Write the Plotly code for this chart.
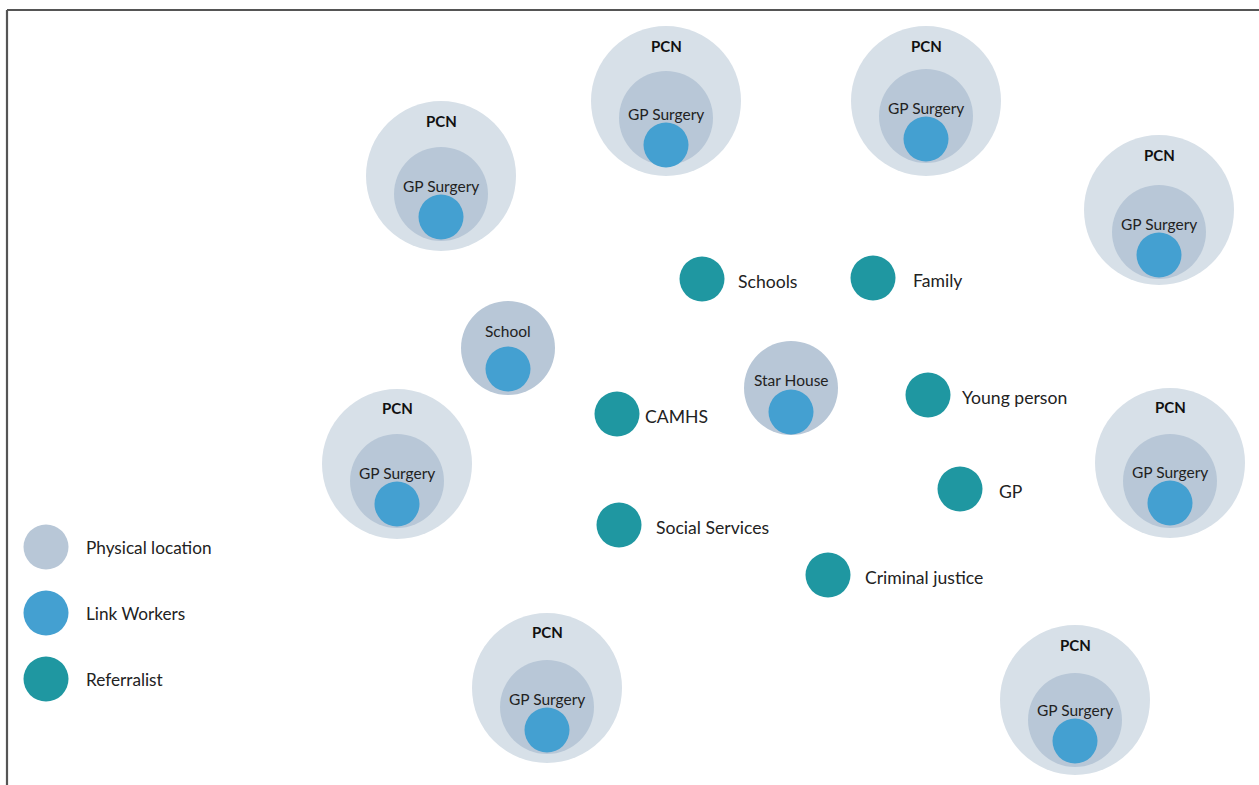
import plotly.graph_objects as go

# ---- Data (node positions in diagram units) ----
pcn_x = [441, 666, 926, 1159, 397, 1170, 547, 1075]
pcn_y = [176, 101, 101, 210, 464, 463, 688, 700]
pcn_label_y = [121, 46, 46, 155, 408, 407, 632, 645]
gp_y = [194, 118, 116, 232, 481, 481, 707, 720]
gp_label_y = [186, 114, 108, 224, 473, 472, 699, 710]
gp_link_y = [217, 145, 139, 255, 504, 503, 730, 741]

site_names = ["School", "Star House"]
site_x = [508, 791]
site_y = [348, 388]
site_label_y = [331, 380]
site_link_y = [369, 412]

ref_names = ["Schools", "Family", "CAMHS", "Young person", "GP", "Social Services", "Criminal justice"]
ref_x = [702, 873, 617, 928, 960, 619, 828]
ref_y = [279, 278, 414, 395, 489, 525, 575]
ref_label_x = [738, 913, 645, 962, 999, 656, 865]

legend_names = ["Physical location", "Link Workers", "Referralist"]
legend_y = [547, 613, 679]
legend_x = [46, 46, 46]
legend_label_x = [86, 86, 86]

# ---- Styles ----
C_PCN = "#d7e0e8"
C_LOC = "#b8c7d7"
C_LINK = "#44a0d1"
C_REF = "#1f97a1"
FONT = "Lato"

fig = go.Figure()

def dots(x, y, size, color):
    fig.add_trace(go.Scatter(x=x, y=y, mode="markers", hoverinfo="skip",
                             marker=dict(size=size, color=color, line=dict(width=0))))

dots(pcn_x, pcn_y, 150, C_PCN)
dots(pcn_x + site_x, gp_y + site_y, 94, C_LOC)
dots(pcn_x + site_x, gp_link_y + site_link_y, 45, C_LINK)
dots(ref_x, ref_y, 45, C_REF)
dots(legend_x, legend_y, 45, [C_LOC, C_LINK, C_REF])

ann = []
for x, y in zip(pcn_x, pcn_label_y):
    ann.append(dict(x=x, y=y, text="<b>PCN</b>", showarrow=False, xanchor="center", yanchor="middle",
                    font=dict(family=FONT, size=15, color="#111")))
for x, y in zip(pcn_x, gp_label_y):
    ann.append(dict(x=x, y=y, text="GP Surgery", showarrow=False, xanchor="center", yanchor="middle",
                    font=dict(family=FONT, size=15.5, color="#222")))
for n, x, y in zip(site_names, site_x, site_label_y):
    ann.append(dict(x=x, y=y, text=n, showarrow=False, xanchor="center", yanchor="middle",
                    font=dict(family=FONT, size=15.5, color="#222")))
for n, x, y in zip(ref_names, ref_label_x, ref_y):
    ann.append(dict(x=x, y=y + 2, text=n, showarrow=False, xanchor="left", yanchor="middle",
                    xshift=-2, font=dict(family=FONT, size=17.6, color="#222")))
for n, x, y in zip(legend_names, legend_label_x, legend_y):
    ann.append(dict(x=x, y=y, text=n, showarrow=False, xanchor="left", yanchor="middle",
                    xshift=-2, font=dict(family=FONT, size=17.2, color="#222")))

fig.update_layout(
    width=1259, height=785,
    margin=dict(l=0, r=0, t=0, b=0),
    paper_bgcolor="white", plot_bgcolor="white",
    showlegend=False,
    annotations=ann,
    xaxis=dict(range=[0, 1259], visible=False, fixedrange=True),
    yaxis=dict(range=[785, 0], visible=False, fixedrange=True),
    shapes=[
        dict(type="line", xref="x", yref="y", x0=7, x1=1259, y0=10, y1=10,
             line=dict(color="#555555", width=2.2)),
        dict(type="line", xref="x", yref="y", x0=7, x1=7, y0=10, y1=785,
             line=dict(color="#555555", width=2.2)),
    ],
)

fig.write_html("out.html", config={"displayModeBar": False},
               post_script="document.body.style.margin='0';document.body.style.overflow='hidden';")
